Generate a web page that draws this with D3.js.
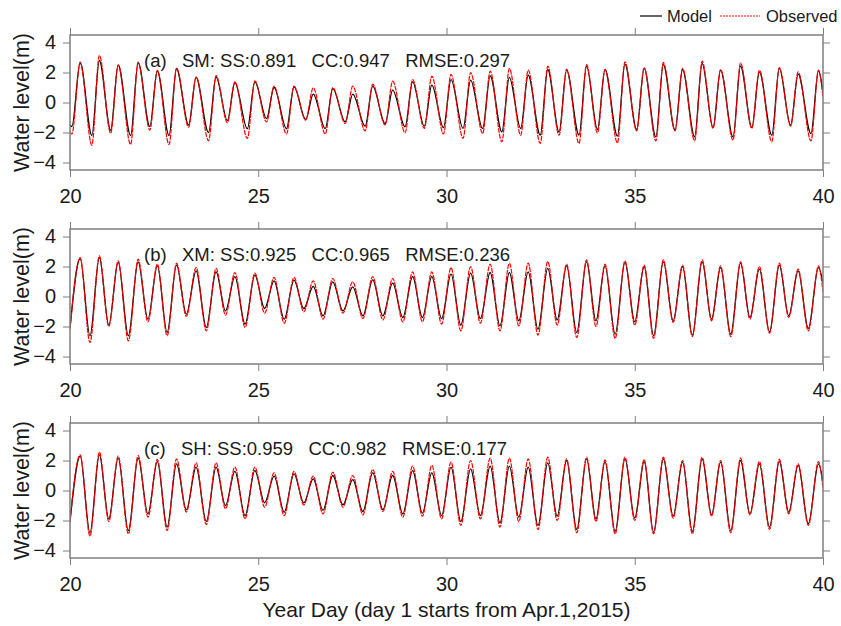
<!DOCTYPE html>
<html>
<head>
<meta charset="utf-8">
<script src="https://cdn.jsdelivr.net/npm/d3@7"></script>
<style>
  body { margin: 0; background: #fff; }
  svg { font-family: Arial, "Liberation Sans", sans-serif; }
</style>
</head>
<body>
<div id="chart"></div>
<script>
// Data ////////////////////////////////////////////////
const xTicks = [20, 25, 30, 35, 40]
const yTicks = [-4, -2, 0, 2, 4]

const panelLabels = ['(a)', '(b)', '(c)']
const stations = ['SM', 'XM', 'SH']
const ssValues = ['0.891', '0.925', '0.959']
const ccValues = ['0.947', '0.965', '0.982']
const rmseValues = ['0.297', '0.236', '0.177']

// high water times (year day), shared by the three stations
const peakDays = [20.27, 20.78, 21.28, 21.81, 22.32, 22.83, 23.35, 23.88, 24.38, 24.91,
  25.42, 25.95, 26.46, 26.98, 27.51, 28.04, 28.57, 29.10, 29.61, 30.12,
  30.64, 31.16, 31.67, 32.17, 32.69, 33.19, 33.72, 34.21, 34.74, 35.25,
  35.76, 36.27, 36.79, 37.28, 37.81, 38.31, 38.84, 39.34, 39.88]
// low water times: SM (low comes shortly before each high)
const lowDaysA = [20.05, 20.58, 21.08, 21.61, 22.12, 22.63, 23.15, 23.68, 24.18, 24.71,
  25.22, 25.75, 26.26, 26.78, 27.31, 27.84, 28.37, 28.90, 29.41, 29.92,
  30.44, 30.96, 31.47, 31.97, 32.49, 32.99, 33.52, 34.01, 34.54, 35.05,
  35.56, 36.07, 36.59, 37.08, 37.61, 38.11, 38.64, 39.14, 39.68]
// low water times: XM and SH (between highs)
const lowDaysBC = [20.53, 21.03, 21.55, 22.07, 22.58, 23.09, 23.62, 24.13, 24.65, 25.17,
  25.69, 26.21, 26.72, 27.25, 27.78, 28.31, 28.84, 29.36, 29.87, 30.38,
  30.90, 31.42, 31.92, 32.43, 32.94, 33.46, 33.97, 34.48, 35.00, 35.50,
  36.02, 36.53, 37.04, 37.55, 38.06, 38.58, 39.09, 39.61]

// SM
const obsHighA = [2.7, 3.15, 2.5, 2.7, 2.15, 2.3, 1.7, 1.8, 1.38, 1.45, 1.1,
  1.09, 0.98, 1.0, 1.09, 1.22, 1.42, 1.53, 1.76, 1.87, 2.0, 2.09, 2.27, 2.16, 2.42,
  2.22, 2.53, 2.2, 2.71, 2.33, 2.67, 2.27, 2.76, 2.2, 2.64, 2.16, 2.33, 2.04, 2.16]
const modHighA = [2.65, 2.8, 2.5, 2.65, 2.1, 2.25, 1.67, 1.7, 1.33, 1.38, 1.0,
  1.04, 0.56, 0.93, 0.56, 1.09, 0.82, 1.38, 1.16, 1.53, 1.49, 1.78, 1.67, 1.82, 2.2,
  2.16, 2.42, 2.2, 2.56, 2.27, 2.53, 2.2, 2.6, 2.16, 2.42, 2.04, 2.27, 1.89, 2.11]
const obsLowA = [-2.1, -2.85, -2.05, -2.8, -1.85, -2.8, -1.65, -2.55, -1.35, -2.4, -1.3,
  -2.1, -1.18, -2.1, -1.4, -1.89, -1.5, -2.02, -1.73, -2.1, -2.4, -2.07, -2.62, -2.18, -2.73,
  -2.18, -2.73, -2.02, -2.69, -1.89, -2.56, -1.89, -2.56, -1.73, -2.51, -1.73, -2.62, -1.58, -2.56]
const modLowA = [-1.6, -2.2, -1.85, -2.2, -1.6, -2.2, -1.5, -2.0, -1.2, -1.75, -1.07,
  -1.75, -1.13, -1.73, -1.29, -1.58, -1.4, -1.62, -1.58, -1.67, -1.73, -1.73, -1.96, -1.73, -2.18,
  -1.96, -2.18, -1.8, -2.24, -1.8, -2.29, -1.84, -2.29, -1.67, -2.29, -1.67, -2.18, -1.51, -2.07]

// XM
const obsHighB = [2.6, 2.71, 2.38, 2.49, 2.16, 2.22, 1.93, 1.87, 1.6, 1.56, 1.27,
  1.27, 1.04, 1.2, 0.98, 1.33, 1.2, 1.64, 1.64, 1.93, 2.0, 2.16, 2.22, 2.22, 2.33,
  2.16, 2.44, 2.16, 2.38, 2.09, 2.44, 2.09, 2.44, 2.04, 2.31, 2.0, 2.22, 1.82, 2.04]
const modHighB = [2.53, 2.6, 2.27, 2.31, 2.04, 2.09, 1.71, 1.64, 1.33, 1.42, 1.04,
  1.09, 0.67, 0.98, 0.64, 1.11, 0.89, 1.33, 1.33, 1.49, 1.56, 1.6, 1.6, 1.64, 1.87,
  2.04, 2.31, 2.04, 2.27, 2.0, 2.31, 2.0, 2.31, 1.93, 2.22, 1.82, 2.09, 1.71, 1.93]
const obsLowB = [-3.07, -2.0, -2.96, -1.69, -2.62, -1.33, -2.29, -1.24, -2.07, -1.11, -1.78,
  -1.02, -1.51, -1.11, -1.47, -1.56, -1.69, -1.69, -1.84, -2.29, -1.78, -2.29, -1.96, -2.58, -1.91,
  -2.73, -2.0, -2.8, -1.91, -2.8, -1.73, -2.67, -1.62, -2.67, -1.51, -2.44, -1.4, -2.29]
const modLowB = [-2.62, -1.91, -2.62, -1.51, -2.4, -1.18, -2.07, -0.96, -1.84, -0.8, -1.51,
  -0.8, -1.29, -0.96, -1.29, -1.29, -1.4, -1.4, -1.47, -1.91, -1.47, -1.96, -1.62, -2.18, -1.56,
  -2.4, -1.62, -2.51, -1.69, -2.62, -1.62, -2.58, -1.51, -2.51, -1.4, -2.36, -1.29, -2.13]

// SH
const obsHighC = [2.38, 2.56, 2.29, 2.33, 2.07, 2.11, 1.84, 1.84, 1.56, 1.56, 1.18,
  1.27, 0.96, 1.22, 1.0, 1.4, 1.27, 1.62, 1.67, 1.89, 2.0, 2.16, 2.16, 2.11, 2.22,
  2.11, 2.22, 2.04, 2.22, 2.07, 2.22, 2.0, 2.22, 2.0, 2.16, 1.93, 2.07, 1.78, 1.93]
const modHighC = [2.29, 2.38, 2.16, 2.16, 1.93, 1.78, 1.56, 1.56, 1.27, 1.33, 0.96,
  1.11, 0.78, 1.0, 0.73, 1.18, 1.0, 1.33, 1.18, 1.56, 1.44, 1.62, 1.62, 1.56, 1.84,
  2.0, 2.11, 1.93, 2.11, 1.93, 2.11, 1.89, 2.11, 1.89, 2.0, 1.78, 1.93, 1.67, 1.78]
const obsLowC = [-3.04, -2.07, -2.89, -1.78, -2.67, -1.44, -2.27, -1.22, -1.89, -1.11, -1.67,
  -0.96, -1.56, -1.11, -1.62, -1.4, -1.78, -1.71, -1.89, -2.33, -1.89, -2.44, -2.07, -2.6, -2.0,
  -2.82, -2.07, -2.89, -2.0, -2.89, -1.84, -2.89, -1.71, -2.82, -1.62, -2.6, -1.56, -2.33]
const modLowC = [-2.82, -1.89, -2.67, -1.56, -2.44, -1.29, -2.07, -1.0, -1.67, -0.82, -1.44,
  -0.82, -1.33, -0.96, -1.4, -1.27, -1.56, -1.51, -1.67, -2.07, -1.67, -2.16, -1.78, -2.33, -1.71,
  -2.6, -1.89, -2.73, -1.84, -2.78, -1.71, -2.73, -1.62, -2.67, -1.56, -2.44, -1.44, -2.22]

// values at day 20 and day 40
const obsStart = [-1.95, -2.2, -2.0]
const modStart = [-1.5, -2.1, -2.1]
const obsEnd = [0.3, 0.3, 0.1]
const modEnd = [0.7, 0.9, 0.6]
/////////////////////////////////////////////////////////////////////////////

// interleave highs and lows into one time series
function buildSeries(highs, lows, lowDays, lowsFirst, start, end) {
  const pts = [{ t: 20, v: start }]
  highs.forEach((h, i) => {
    if (lowsFirst) {
      pts.push({ t: lowDays[i], v: lows[i] })
      pts.push({ t: peakDays[i], v: h })
    } else {
      pts.push({ t: peakDays[i], v: h })
      if (i < lows.length) pts.push({ t: lowDays[i], v: lows[i] })
    }
  })
  pts.push({ t: 40, v: end })
  return pts
}

const modelSeries = [
  buildSeries(modHighA, modLowA, lowDaysA, true, modStart[0], modEnd[0]),
  buildSeries(modHighB, modLowB, lowDaysBC, false, modStart[1], modEnd[1]),
  buildSeries(modHighC, modLowC, lowDaysBC, false, modStart[2], modEnd[2])
]
const obsSeries = [
  buildSeries(obsHighA, obsLowA, lowDaysA, true, obsStart[0], obsEnd[0]),
  buildSeries(obsHighB, obsLowB, lowDaysBC, false, obsStart[1], obsEnd[1]),
  buildSeries(obsHighC, obsLowC, lowDaysBC, false, obsStart[2], obsEnd[2])
]

// Dimensions
const width = 841
const height = 626
const left = 70
const right = 823
const panelTops = [35, 229, 423]
const panelH = 135
const axisColor = '#7f7f7f'
const textColor = '#1a1a1a'

const svg = d3.select('#chart')
  .append('svg')
  .attr('width', width)
  .attr('height', height)

const xScale = d3.scaleLinear()
  .domain([20, 40])
  .range([left, right])

panelTops.forEach((top, p) => {
  const yScale = d3.scaleLinear()
    .domain([-4.5, 4.5])
    .range([top + panelH, top])

  const g = svg.append('g')

  g.append('clipPath')
    .attr('id', 'clip' + p)
    .append('rect')
    .attr('x', left)
    .attr('y', top)
    .attr('width', right - left)
    .attr('height', panelH)

  const line = d3.line()
    .x(d => xScale(d.t))
    .y(d => yScale(d.v))
    .curve(d3.curveMonotoneX)

  const plot = g.append('g').attr('clip-path', `url(#clip${p})`)

  plot.append('path')
    .datum(modelSeries[p])
    .attr('d', line)
    .attr('fill', 'none')
    .attr('stroke', '#000')
    .attr('stroke-width', 1.3)

  plot.append('path')
    .datum(obsSeries[p])
    .attr('d', line)
    .attr('fill', 'none')
    .attr('stroke', '#ff0000')
    .attr('stroke-width', 1.2)
    .attr('stroke-dasharray', '5,1')

  // axes
  const axes = [
    { axis: d3.axisBottom(xScale).tickValues(xTicks), tr: `translate(0,${top + panelH})`, labels: true },
    { axis: d3.axisTop(xScale).tickValues(xTicks), tr: `translate(0,${top})`, labels: false },
    { axis: d3.axisLeft(yScale).tickValues(yTicks), tr: `translate(${left},0)`, labels: true },
    { axis: d3.axisRight(yScale).tickValues(yTicks), tr: `translate(${right},0)`, labels: false }
  ]
  axes.forEach((a, k) => {
    const ag = g.append('g')
      .attr('transform', a.tr)
      .call(a.axis.tickSize(7).tickPadding(k === 0 ? 12 : 7).tickSizeOuter(0))
    ag.select('.domain').remove()
    ag.selectAll('.tick line').attr('stroke', axisColor).attr('stroke-width', 1)
    ag.selectAll('.tick text')
      .attr('fill', textColor)
      .style('font-size', '20px')
      .style('font-family', 'Arial, "Liberation Sans", sans-serif')
    if (!a.labels) ag.selectAll('.tick text').remove()
  })

  g.append('rect')
    .attr('x', left)
    .attr('y', top)
    .attr('width', right - left)
    .attr('height', panelH)
    .attr('fill', 'none')
    .attr('stroke', axisColor)
    .attr('stroke-width', 1.5)

  // y axis label
  g.append('text')
    .attr('transform', `translate(29,${top + panelH / 2}) rotate(-90)`)
    .attr('text-anchor', 'middle')
    .attr('fill', textColor)
    .style('font-size', '21.5px')
    .text('Water level(m)')

  // stats annotation
  g.append('text')
    .attr('x', 144)
    .attr('y', top + 32)
    .attr('fill', textColor)
    .style('font-size', '18.5px')
    .style('white-space', 'pre')
    .attr('xml:space', 'preserve')
    .text(`${panelLabels[p]}   ${stations[p]}: SS:${ssValues[p]}   CC:${ccValues[p]}   RMSE:${rmseValues[p]}`)
})

// x axis title
svg.append('text')
  .attr('x', (left + right) / 2)
  .attr('y', 617)
  .attr('text-anchor', 'middle')
  .attr('fill', textColor)
  .style('font-size', '21px')
  .text('Year Day (day 1 starts from Apr.1,2015)')

// legend
const legend = svg.append('g').attr('transform', 'translate(0,16)')
legend.append('line')
  .attr('x1', 640).attr('x2', 662)
  .attr('stroke', '#000').attr('stroke-width', 1.2)
legend.append('text')
  .attr('x', 667).attr('y', 6)
  .attr('fill', textColor)
  .style('font-size', '16.5px')
  .text('Model')
legend.append('line')
  .attr('x1', 720).attr('x2', 760)
  .attr('stroke', '#ff0000').attr('stroke-width', 1.2)
  .attr('stroke-dasharray', '2,1')
legend.append('text')
  .attr('x', 766).attr('y', 6)
  .attr('fill', textColor)
  .style('font-size', '16.5px')
  .text('Observed')
</script>
</body>
</html>
